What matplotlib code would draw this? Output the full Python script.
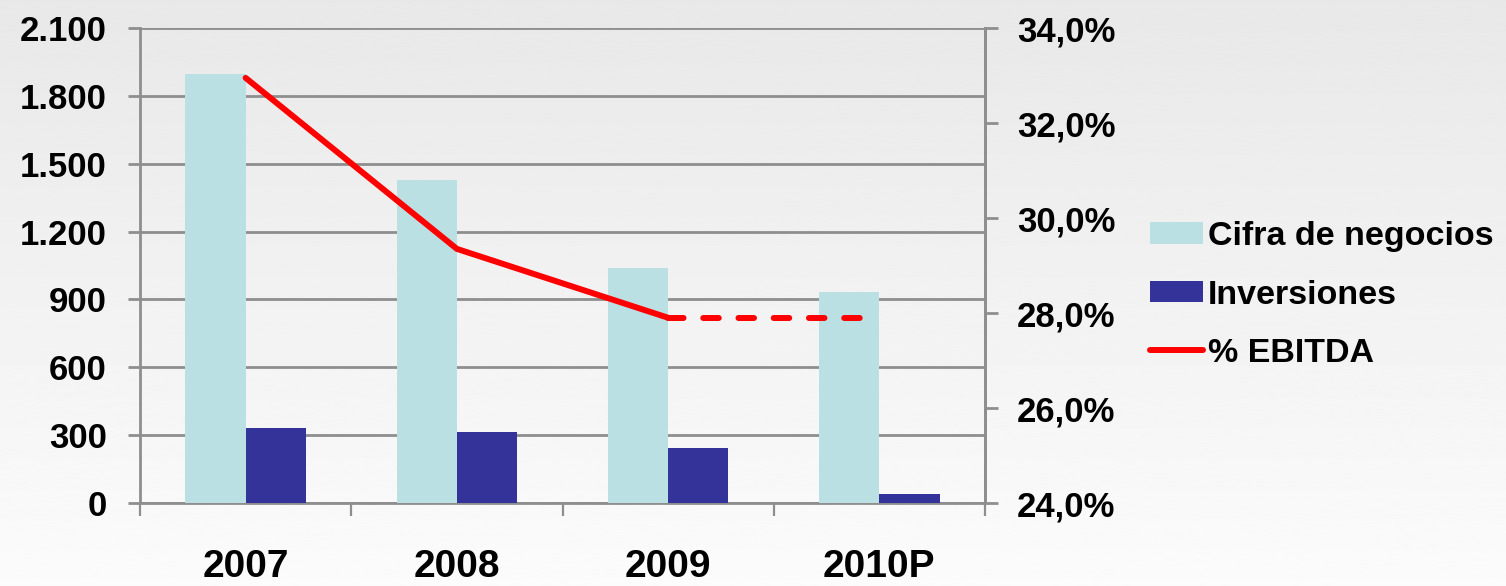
import matplotlib
matplotlib.use("Agg")
import matplotlib.pyplot as plt
from matplotlib.patches import Patch
from matplotlib.lines import Line2D
import numpy as np

years = ['2007', '2008', '2009', '2010P']
cifra_negocios = [1895, 1430, 1040, 935]
inversiones = [330, 315, 243, 40]
ebitda_pct = [32.95, 29.35, 27.9, 27.9]

plt.rcParams['font.family'] = ['Liberation Sans', 'DejaVu Sans']
plt.rcParams['font.weight'] = 'bold'

c_light = '#bbe0e3'
c_dark = '#333399'
c_grid = '#8e8e8e'

fig = plt.figure(figsize=(15.06, 5.86), dpi=100)

# fondo degradado tipo diapositiva
bg = fig.add_axes([0, 0, 1, 1], zorder=-10)
grad = np.linspace(0.91, 0.985, 256).reshape(-1, 1)
bg.imshow(grad, aspect='auto', cmap='gray', vmin=0, vmax=1, extent=[0, 1, 1, 0])
bg.set_axis_off()

ax = fig.add_axes([140/1506, 1-503/586, 845/1506, 475/586])
ax.patch.set_alpha(0)
x = np.arange(len(years))
w = 0.285
ax.bar(x - w/2, cifra_negocios, w, color=c_light, zorder=3)
ax.bar(x + w/2, inversiones, w, color=c_dark, zorder=3)

ax.set_xlim(-0.5, len(years) - 0.5)
ax.set_ylim(0, 2100)
ax.set_yticks(np.arange(0, 2101, 300))
ax.set_yticklabels([f'{v:,}'.replace(',', '.') for v in range(0, 2101, 300)])
ax.yaxis.grid(True, color=c_grid, linewidth=2.0, zorder=0)
ax.set_axisbelow(True)

ax.set_xticks(x)
ax.set_xticklabels(years, fontsize=28)
ax.tick_params(axis='x', which='major', length=0, pad=33)
ax.set_xticks(np.arange(-0.5, len(years), 1), minor=True)
ax.tick_params(axis='x', which='minor', length=9, width=1.6, color=c_grid)
ax.tick_params(axis='y', labelsize=25, length=9, width=2.0, color=c_grid, pad=15)

ax.spines['top'].set_visible(False)
for s in ['left', 'bottom', 'right']:
    ax.spines[s].set_color(c_grid)
    ax.spines[s].set_linewidth(2.0)

ax2 = ax.twinx()
ax2.set_ylim(24, 34)
ax2.set_yticks(np.arange(24, 34.1, 2))
ax2.set_yticklabels([f'{v:.1f}%'.replace('.', ',') for v in np.arange(24, 34.1, 2)])
ax2.tick_params(axis='y', labelsize=25, length=9, width=2.0, color=c_grid, pad=14)
for s in ['top', 'left', 'bottom']:
    ax2.spines[s].set_visible(False)
ax2.spines['right'].set_color(c_grid)
ax2.spines['right'].set_linewidth(2.0)

ax2.plot(x[:3], ebitda_pct[:3], color='#ff0000', linewidth=4.3, solid_capstyle='round', zorder=5)
ax2.plot(x[2:], ebitda_pct[2:], color='#ff0000', linewidth=4.3, linestyle=(0, (2.6, 3.3)),
         dash_capstyle='round', zorder=5)

handles = [Patch(facecolor=c_light, edgecolor='none'),
           Patch(facecolor=c_dark, edgecolor='none'),
           Line2D([0], [0], color='#ff0000', linewidth=4.3, solid_capstyle='round')]
fig.legend(handles, ['Cifra de negocios', 'Inversiones', '% EBITDA'],
           loc='center left', bbox_to_anchor=(1150/1506, 1-295/586),
           frameon=False, fontsize=24.5, handlelength=1.55, handleheight=0.6,
           handletextpad=0.15, labelspacing=0.8, borderpad=0, borderaxespad=0)

fig.savefig('out.png', dpi=100)
